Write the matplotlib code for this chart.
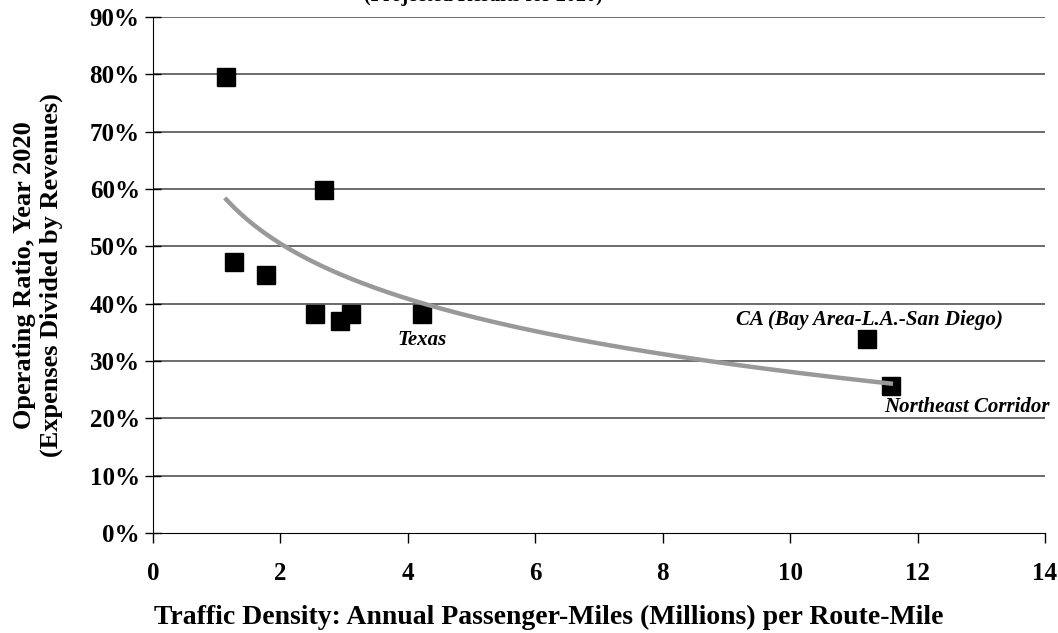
import numpy as np
import matplotlib
matplotlib.use("Agg")
import matplotlib.pyplot as plt

plt.rcParams['font.family'] = ['Liberation Serif', 'DejaVu Serif']

# traffic density (millions of passenger-miles per route-mile) and operating ratio (%)
density = [1.15, 2.69, 1.27, 1.77, 2.55, 2.94, 3.11, 4.23, 11.2, 11.58]
op_ratio = [79.5, 59.9, 47.3, 45.0, 38.2, 36.9, 38.2, 38.2, 33.9, 25.7]

labels = {7: 'Texas', 8: 'CA (Bay Area-L.A.-San Diego)', 9: 'Northeast Corridor'}

x_ticks = [0, 2, 4, 6, 8, 10, 12, 14]
y_ticks = [0, 10, 20, 30, 40, 50, 60, 70, 80, 90]

fig = plt.figure(figsize=(10.58, 6.33), dpi=100)
ax = fig.add_axes([0.1446, 0.158, 0.8431, 0.815])

# horizontal gridlines
for yv in y_ticks[1:]:
    ax.axhline(yv, color='#444444', lw=1.1, zorder=1)

ax.plot(density, op_ratio, 's', color='black', ms=13.5, zorder=3)

# logarithmic trendline fitted to the points
dx = np.array(density)
b, a = np.polyfit(np.log(dx), np.array(op_ratio), 1)
xt = np.linspace(dx.min(), dx.max(), 200)
ax.plot(xt, a + b * np.log(xt), color='#999999', lw=3.2, zorder=4)

note = dict(ha='center', va='center', fontsize=15, fontweight='bold', style='italic')
ax.text(density[7], op_ratio[7] - 4.5, labels[7], **note)
ax.text(density[8] + 0.05, op_ratio[8] + 3.3, labels[8], **note)
ax.text(density[9] + 1.2, op_ratio[9] - 3.7, labels[9], **note)

ax.set_xlim(0, 14)
ax.set_ylim(0, 90)
ax.set_xticks(x_ticks)
ax.set_yticks(y_ticks)
ax.set_yticklabels([f'{v}%' for v in y_ticks])
ax.tick_params(axis='x', labelsize=18, direction='out', length=7, width=1, pad=14)
ax.tick_params(axis='y', labelsize=18, direction='inout', length=11, width=1, pad=4)
for lbl in ax.get_xticklabels() + ax.get_yticklabels():
    lbl.set_fontweight('bold')

ax.spines['top'].set_visible(False)
ax.spines['right'].set_visible(False)
ax.spines['left'].set_color('black')
ax.spines['bottom'].set_color('black')

ax.set_xlabel('Traffic Density: Annual Passenger-Miles (Millions) per Route-Mile',
              fontsize=20, fontweight='bold', va='center')
ax.xaxis.set_label_coords(0.444, -0.163)
ax.set_ylabel('Operating Ratio, Year 2020\n(Expenses Divided by Revenues)',
              fontsize=19, fontweight='bold', va='center', multialignment='center')
ax.yaxis.set_label_coords(-0.129, 0.5)

# title cut off at the top of the image
fig.text(0.4565, 0.998, '(Projected Results for 2020)', ha='center', va='baseline',
         fontsize=14.5, fontweight='bold')

fig.savefig('out.png', dpi=100)
